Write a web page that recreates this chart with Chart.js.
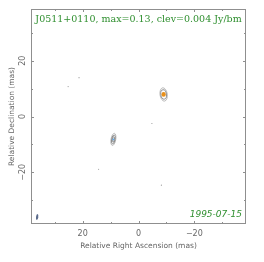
<!DOCTYPE html>
<html>
<head>
<meta charset="utf-8">
<script src="https://cdn.jsdelivr.net/npm/chart.js@4/dist/chart.umd.min.js"></script>
<style>
  html, body { margin: 0; padding: 0; background: #fff; }
  canvas { display: block; }
</style>
</head>
<body>
<canvas id="map" width="264" height="262"></canvas>
<script>
// axis ticks (mas)
const tickValues = [-30, -20, -10, 0, 10, 20, 30];
const axisLimit = 38.5;

// isolated faint specks (RA, Dec in mas)
const speckRA = [25.2, 21.3, -4.8, 14.3, -8.2];
const speckDec = [10.7, 13.9, -2.5, -18.9, -24.6];

// components: position, contour half-widths (mas), position angle (deg)
const compRA = [-9.0, 9.0];
const compDec = [7.9, -8.2];
const compMajor = [[2.4, 1.7], [2.2, 1.6, 1.0]];
const compMinor = [[1.3, 1.0], [0.85, 0.6, 0.35]];
const compPA = [-8, 10];
const compCore = ['#e8901a', '#5aaaf0'];
const compCoreSize = [0.85, 0.35];

// restoring beam
const beamRA = [36.3];
const beamDec = [-36.0];
const beamMajor = [1.1];
const beamMinor = [0.4];
const beamPA = [8];

const titleText = 'J0511+0110, max=0.13, clev=0.004 Jy/bm';
const dateText = '1995-07-15';

const frameColor = '#8f8f8f';
const textGreen = '#2f8f2f';

function ellipse(ctx, chart, ra, dec, a, b, pa) {
  const xs = chart.scales.x, ys = chart.scales.y;
  const cx = xs.getPixelForValue(ra), cy = ys.getPixelForValue(dec);
  const k = Math.abs(ys.getPixelForValue(1) - ys.getPixelForValue(0));
  ctx.beginPath();
  ctx.ellipse(cx, cy, b * k, a * k, pa * Math.PI / 180, 0, Math.PI * 2);
}

const mapPlugin = {
  id: 'mapPlugin',
  afterDatasetsDraw(chart) {
    const ctx = chart.ctx;
    const area = chart.chartArea;
    const xs = chart.scales.x, ys = chart.scales.y;
    ctx.save();

    // contours
    compRA.forEach((ra, i) => {
      compMajor[i].forEach((a, j) => {
        ellipse(ctx, chart, ra, compDec[i], a, compMinor[i][j], compPA[i]);
        ctx.strokeStyle = j === 0 ? '#a8a8a8' : '#777';
        ctx.lineWidth = 0.8;
        ctx.stroke();
      });
      ellipse(ctx, chart, ra, compDec[i], compCoreSize[i], compCoreSize[i] * 0.9, 0);
      ctx.fillStyle = compCore[i];
      ctx.fill();
    });

    // beam
    beamRA.forEach((ra, i) => {
      ellipse(ctx, chart, ra, beamDec[i], beamMajor[i], beamMinor[i], beamPA[i]);
      ctx.fillStyle = '#5c6c8c';
      ctx.fill();
    });

    // frame
    ctx.strokeStyle = frameColor;
    ctx.lineWidth = 1;
    ctx.strokeRect(area.left + 0.5, area.top + 0.5, area.right - area.left - 1, area.bottom - area.top - 1);

    // inside ticks on all four sides
    ctx.beginPath();
    tickValues.forEach(v => {
      const len = v % 20 === 0 ? 3 : 2;
      const px = Math.round(xs.getPixelForValue(v)) + 0.5;
      ctx.moveTo(px, area.bottom); ctx.lineTo(px, area.bottom - len);
      ctx.moveTo(px, area.top); ctx.lineTo(px, area.top + len);
      const py = Math.round(ys.getPixelForValue(v)) + 0.5;
      ctx.moveTo(area.left, py); ctx.lineTo(area.left + len, py);
      ctx.moveTo(area.right, py); ctx.lineTo(area.right - len, py);
    });
    ctx.stroke();

    // rotated y tick labels
    ctx.fillStyle = '#666';
    ctx.font = '8px "DejaVu Sans"';
    ctx.textAlign = 'center';
    ctx.textBaseline = 'middle';
    tickValues.filter(v => v % 20 === 0).forEach(v => {
      ctx.save();
      ctx.translate(area.left - 8, ys.getPixelForValue(v));
      ctx.rotate(-Math.PI / 2);
      ctx.fillText(v < 0 ? '\u2212' + Math.abs(v) : String(v), 0, 0);
      ctx.restore();
    });

    // title and date
    ctx.fillStyle = textGreen;
    ctx.font = '9.5px "DejaVu Serif"';
    ctx.textAlign = 'center';
    ctx.fillText(titleText, (area.left + area.right) / 2, area.top + 11);
    ctx.font = 'italic 9px "DejaVu Sans"';
    ctx.textAlign = 'right';
    ctx.fillText(dateText, area.right - 4, area.bottom - 9);
    ctx.restore();
  }
};

new Chart(document.getElementById('map'), {
  type: 'scatter',
  data: {
    datasets: [{
      data: speckRA.map((ra, i) => ({ x: ra, y: speckDec[i] })),
      pointRadius: 0.6,
      pointBackgroundColor: '#999',
      pointBorderWidth: 0
    }]
  },
  options: {
    responsive: false,
    animation: false,
    layout: { padding: { top: 9, right: 18, left: 8, bottom: 11 } },
    plugins: { legend: { display: false }, tooltip: { enabled: false } },
    scales: {
      x: {
        type: 'linear',
        reverse: true,
        min: -axisLimit,
        max: axisLimit,
        afterBuildTicks: s => { s.ticks = tickValues.map(v => ({ value: v })); },
        afterFit: s => { s.height = 27; },
        grid: { display: false, drawTicks: false },
        border: { display: false },
        ticks: {
          padding: 5,
          maxRotation: 0,
          color: '#666',
          font: { family: 'DejaVu Sans', size: 8 },
          callback: v => v % 20 === 0 ? (v < 0 ? '\u2212' + Math.abs(v) : String(v)) : ''
        },
        title: {
          display: true,
          text: 'Relative Right Ascension (mas)',
          color: '#666',
          font: { family: 'DejaVu Sans', size: 7.5 },
          padding: { top: 2, bottom: 0 }
        }
      },
      y: {
        type: 'linear',
        min: -axisLimit,
        max: axisLimit,
        afterBuildTicks: s => { s.ticks = tickValues.map(v => ({ value: v })); },
        afterFit: s => { s.width = 23; },
        grid: { display: false, drawTicks: false },
        border: { display: false },
        ticks: { display: false },
        title: {
          display: true,
          text: 'Relative Declination (mas)',
          color: '#666',
          font: { family: 'DejaVu Sans', size: 7.5 },
          padding: { top: 0, bottom: 0 }
        }
      }
    }
  },
  plugins: [mapPlugin]
});
</script>
</body>
</html>
